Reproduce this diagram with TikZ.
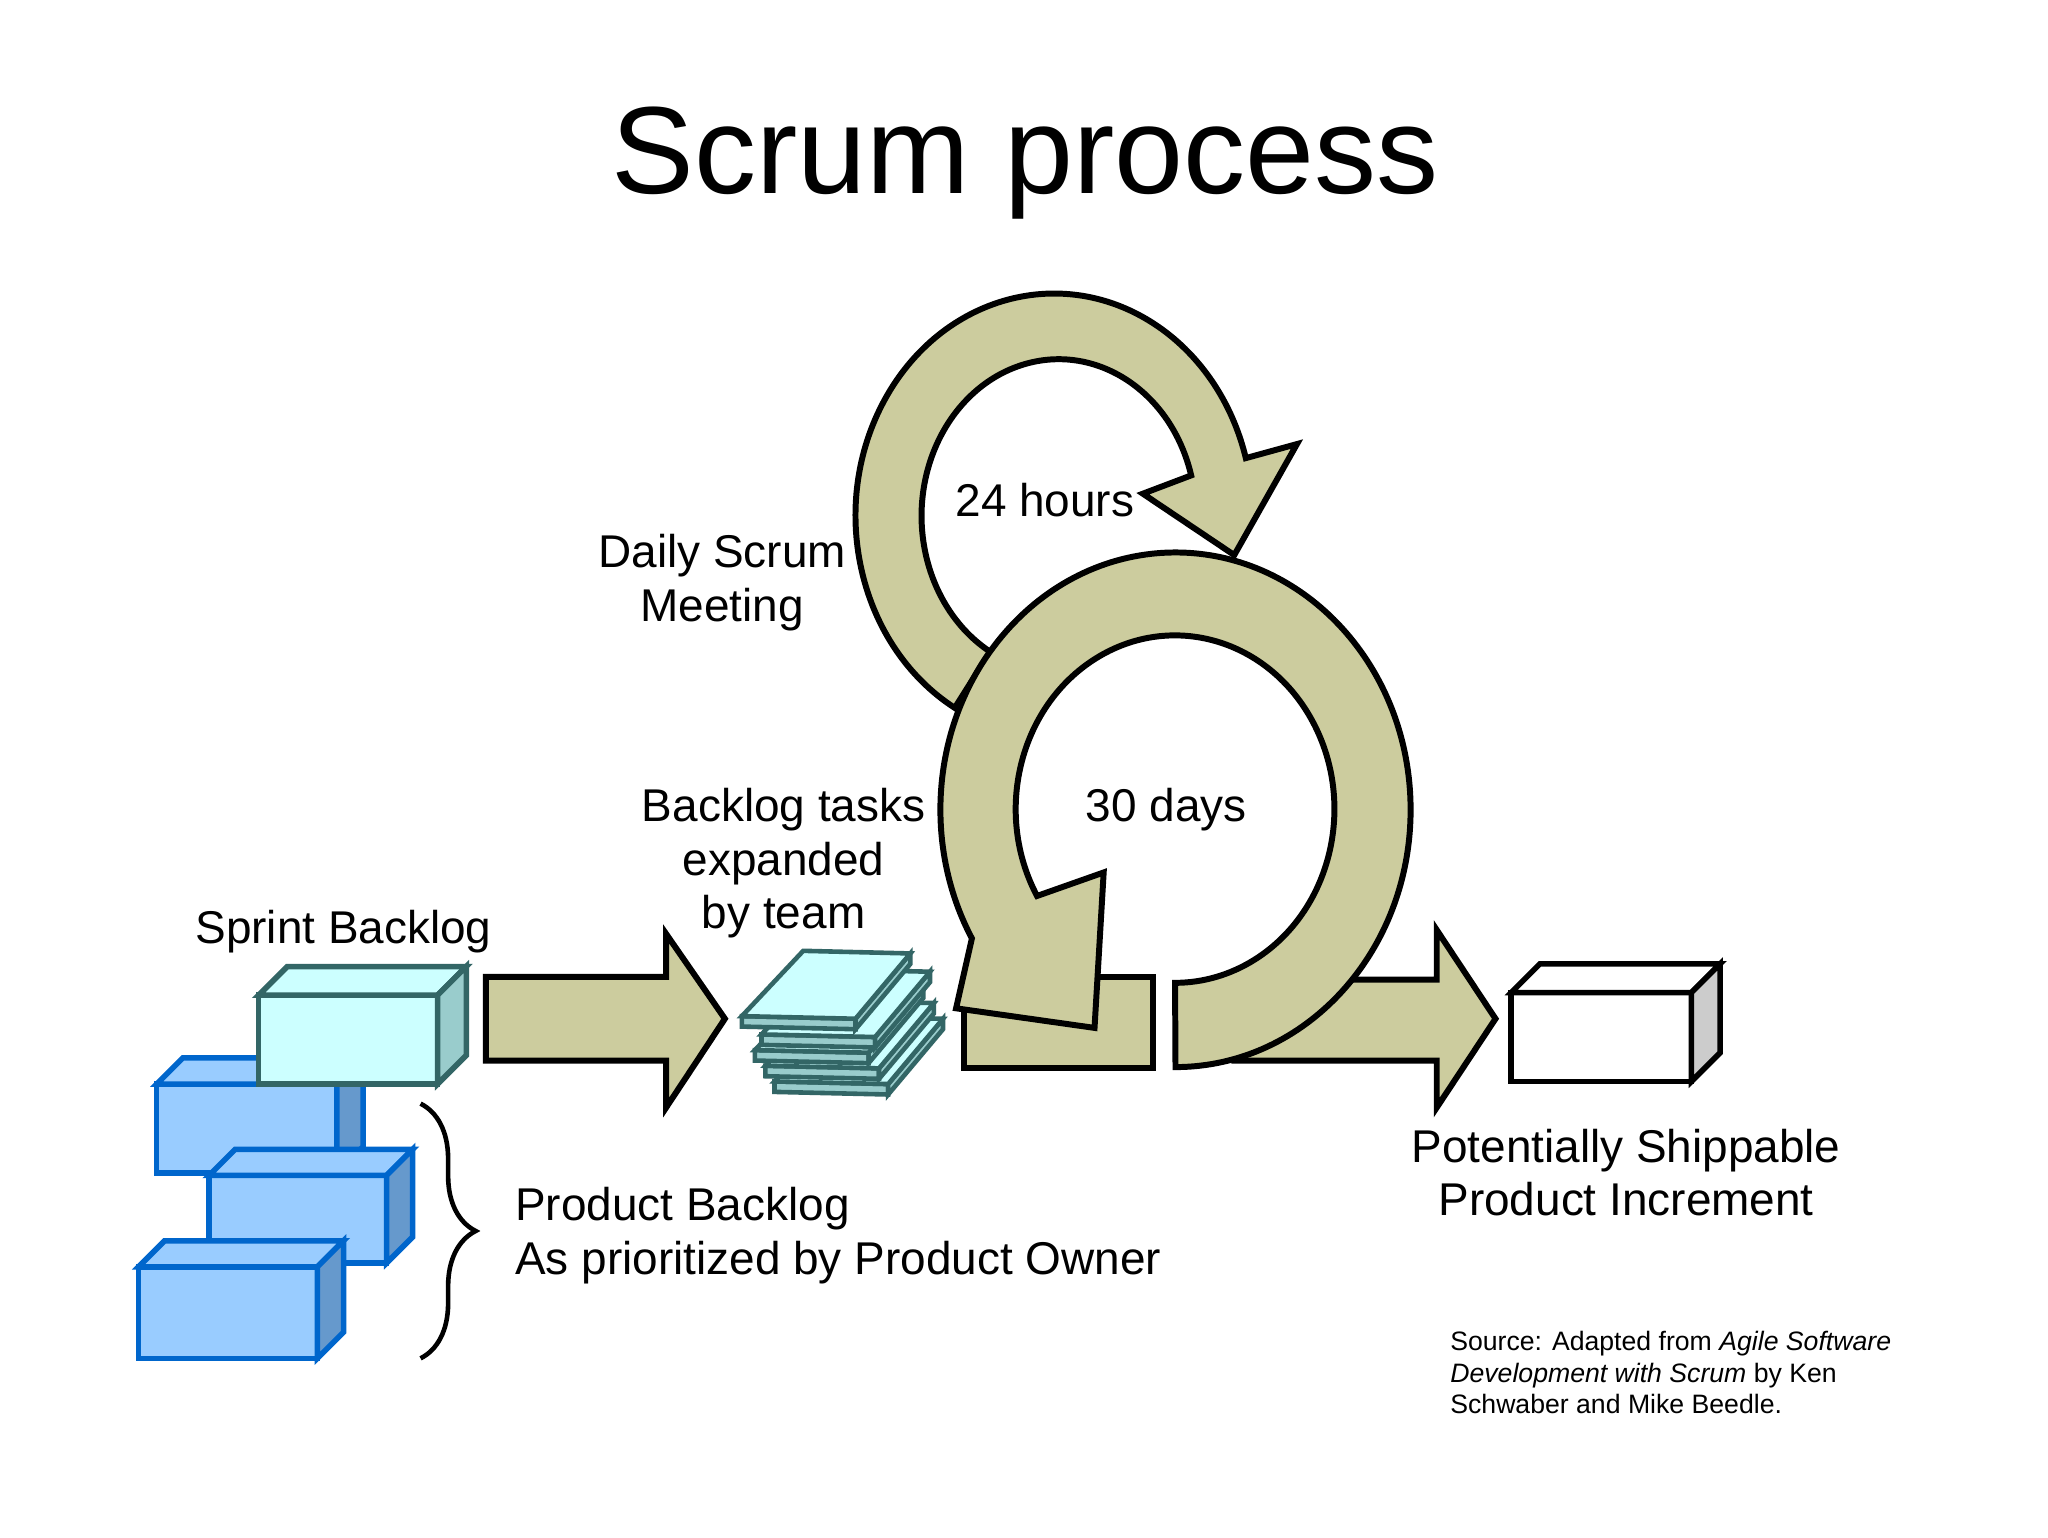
\documentclass[tikz,border=0pt]{standalone}
\usepackage{fontspec}
\setmainfont{Liberation Sans}
\usetikzlibrary{decorations.pathreplacing}
\definecolor{olive}{RGB}{204,204,158}
\definecolor{cyanf}{RGB}{204,255,255}
\definecolor{cyans}{RGB}{153,204,204}
\definecolor{teal}{RGB}{51,102,102}
\definecolor{bluef}{RGB}{153,204,255}
\definecolor{blues}{RGB}{102,153,204}
\definecolor{bluel}{RGB}{0,102,204}
\newcommand\mycube[8]{%
 \fill[#6,draw=#8,line width=1.2pt] (#1,#2) rectangle (#1+#3,#2+#4);
 \fill[#6,draw=#8,line width=1.2pt] (#1,#2) -- (#1+#5,#2-#5) -- (#1+#3+#5,#2-#5) -- (#1+#3,#2) -- cycle;
 \fill[#7,draw=#8,line width=1.2pt] (#1+#3,#2) -- (#1+#3+#5,#2-#5) -- (#1+#3+#5,#2+#4-#5) -- (#1+#3,#2+#4) -- cycle;}
\newcommand\myslab[2]{%
 \fill[cyans,draw=teal,line width=1pt] (568+#1,778+#2) -- (655+#1,780+#2) -- (655+#1,788+#2) -- (568+#1,786+#2) -- cycle;
 \fill[cyans,draw=teal,line width=1pt] (655+#1,780+#2) -- (697+#1,730+#2) -- (697+#1,738+#2) -- (655+#1,788+#2) -- cycle;
 \fill[cyanf,draw=teal,line width=1pt] (568+#1,778+#2) -- (615+#1,728+#2) -- (697+#1,730+#2) -- (655+#1,780+#2) -- cycle;}
\tikzset{lbl/.style={font=\fontsize{10}{11.6}\selectfont,align=center},
 olv/.style={fill=olive,draw=black,line width=1.3pt,line join=miter}}
\begin{document}
\begin{tikzpicture}[x=0.01cm,y=-0.01cm]
\useasboundingbox[fill=white] (0,0) rectangle (1568,1177);
\node[font=\fontsize{27}{30}\selectfont] (title) at (785,125) {Scrum process};
% small loop
\draw[olv] (731,542) arc[start angle=120,end angle=345,x radius=152,y radius=170]
  -- (993,340) -- (945,425) -- (875,378) -- (912,364)
  arc[start angle=345,end angle=120,x radius=105,y radius=120] -- cycle;
% left arrow
\draw[olv] (372,748) -- (510,748) -- (510,715) -- (555,780) -- (510,848) -- (510,812) -- (372,812) -- cycle;
% right arrow
\draw[olv] (945,750) -- (1100,750) -- (1100,712) -- (1145,780) -- (1100,848) -- (1100,812) -- (945,812) -- cycle;
% box
\draw[olv] (738,748) rectangle (883,818);
% big loop
\draw[olv] (900,817) arc[start angle=90,end angle=-210,x radius=180,y radius=197]
  -- (732,772) -- (838,787) -- (845,668) -- (794,686)
  arc[start angle=-210,end angle=90,x radius=122,y radius=133] -- cycle;
% cubes
\mycube{120}{830}{138}{68}{20}{bluef}{blues}{bluel}
\mycube{160}{900}{136}{67}{20}{bluef}{blues}{bluel}
\mycube{106}{970}{137}{70}{20}{bluef}{blues}{bluel}
\mycube{198}{762}{137}{68}{22}{cyanf}{cyans}{teal}
\mycube{1157}{760}{138}{68}{22}{white}{black!20}{black}
% task slabs
\myslab{25}{50}
\myslab{18}{38}
\myslab{10}{26}
\myslab{15}{14}
\myslab{0}{0}
% brace
\draw[decorate,decoration={brace,amplitude=12pt},line width=1pt] (322,845) -- (322,1040);
% labels
\node[lbl] (t24) at (800,383) {24 hours};
\node[lbl] (tdaily) at (553,446) {Daily Scrum\\Meeting};
\node[lbl] (t30) at (893,620) {30 days};
\node[lbl] (ttasks) at (600,661) {Backlog tasks\\expanded\\by team};
\node[lbl] (tsprint) at (263,713) {Sprint Backlog};
\node[lbl,align=left,anchor=west] (tprod) at (382,946) {Product Backlog\\As prioritized by Product Owner};
\node[lbl] (tship) at (1245,898) {Potentially Shippable\\Product Increment};
\node[align=left,anchor=north west,font=\fontsize{5.8}{6.8}\selectfont] (src) at (1098,1007)
 {Source: Adapted from \textit{Agile Software}\\\textit{Development with Scrum} by Ken\\Schwaber and Mike Beedle.};
\end{tikzpicture}
\end{document}
